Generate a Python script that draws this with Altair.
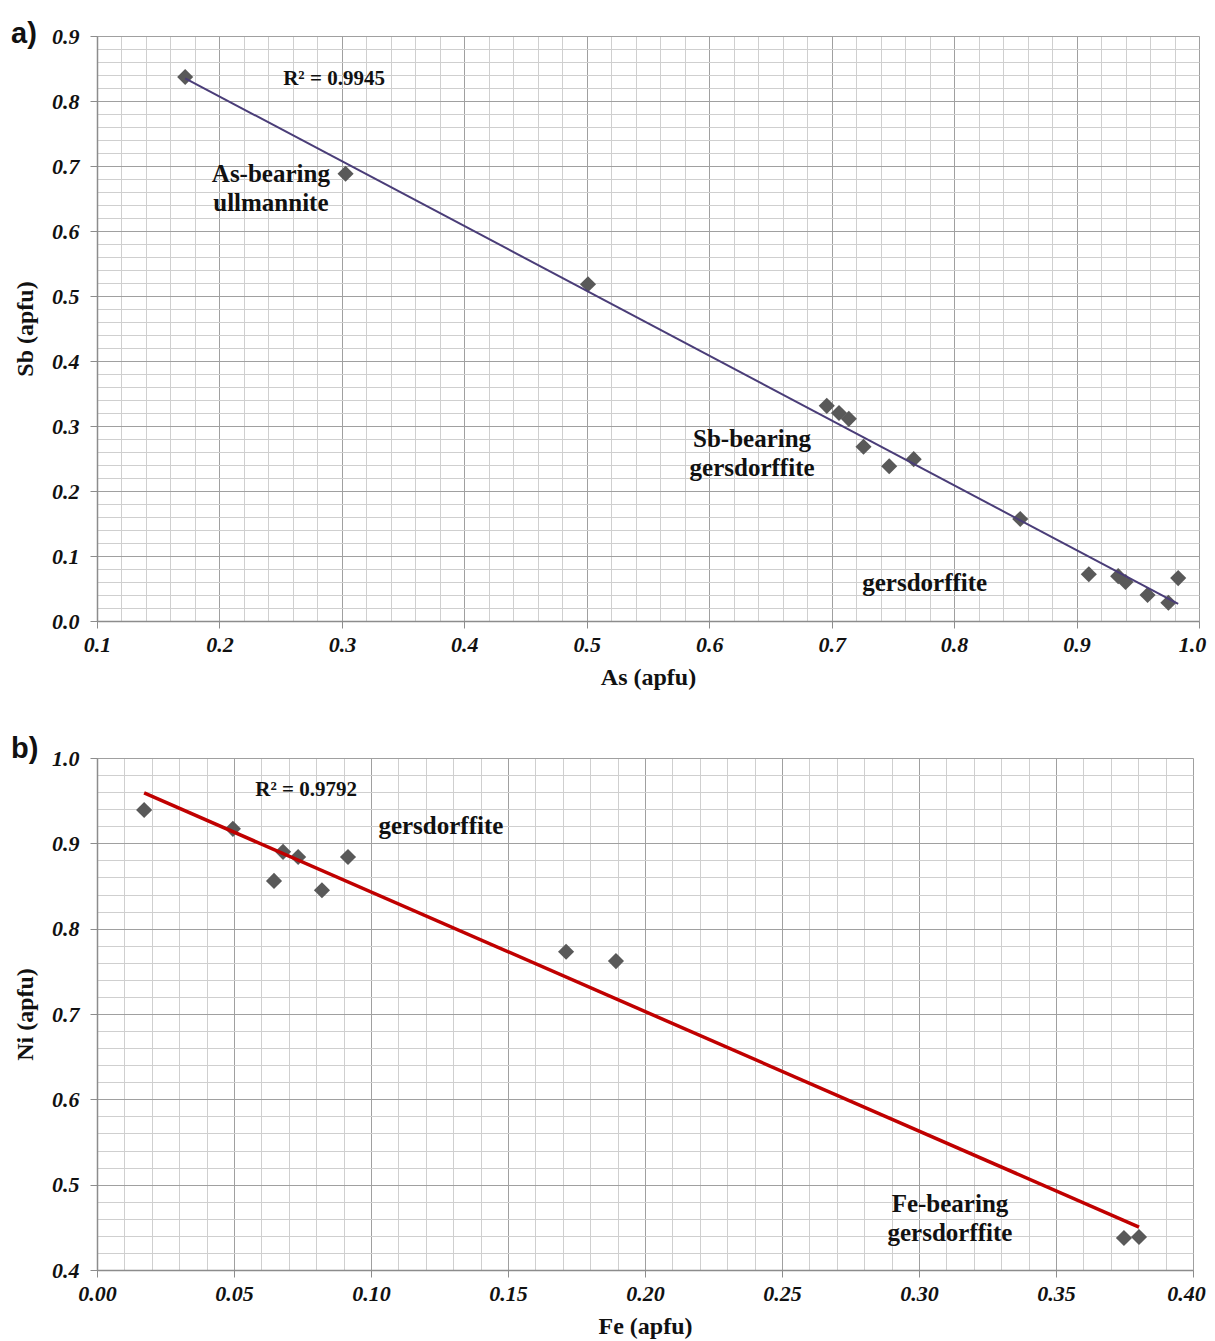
import altair as alt
import pandas as pd

# ---- Panel a data: As vs Sb (apfu)
as_vals = [0.172, 0.303, 0.501, 0.696, 0.706, 0.714, 0.726, 0.747, 0.767, 0.854,
           0.910, 0.934, 0.940, 0.958, 0.975, 0.983]
sb_vals = [0.837, 0.688, 0.518, 0.331, 0.320, 0.311, 0.268, 0.238, 0.249, 0.157,
           0.072, 0.069, 0.060, 0.040, 0.028, 0.066]

# ---- Panel b data: Fe vs Ni (apfu)
fe_vals = [0.0172, 0.0496, 0.0679, 0.0646, 0.0734, 0.0821, 0.0916, 0.1712, 0.1894, 0.3748, 0.3803]
ni_vals = [0.939, 0.917, 0.890, 0.856, 0.884, 0.845, 0.884, 0.773, 0.762, 0.4375, 0.4387]

# ---- annotations (data coordinates)
ann_a_text = ["R² = 0.9945", ["As-bearing", "ullmannite"], ["Sb-bearing", "gersdorffite"], "gersdorffite"]
ann_a_x = [0.2936, 0.242, 0.635, 0.776]
ann_a_y = [0.834, 0.688, 0.2795, 0.0585]
ann_a_size = [21, 25, 25, 25]

ann_b_text = ["R² = 0.9792", "gersdorffite", ["Fe-bearing", "gersdorffite"]]
ann_b_x = [0.0763, 0.1255, 0.3113]
ann_b_y = [0.9625, 0.920, 0.4774]
ann_b_size = [21, 25, 25]

# ---- tick values
a_x_ticks = [round(0.1 + 0.02 * i, 2) for i in range(46)]
a_y_ticks = [round(0.02 * i, 2) for i in range(46)]
b_x_ticks = [round(0.01 * i, 2) for i in range(41)]
b_y_ticks = [round(0.4 + 0.02 * i, 2) for i in range(31)]

MAJOR_GRID = "#a0a0a0"
MINOR_GRID = "#cfcfcf"
SERIF = "Liberation Serif"


def major_test(k):
    return f"abs(datum.value*{k} - round(datum.value*{k})) < 0.001"


def make_axis(values, k, fmt, title, orient):
    t = major_test(k)
    is_y = orient == "left"
    extra = {}
    if not is_y:
        last = values[-1]
        extra["labelOffset"] = {"condition": {"test": f"abs(datum.value - {last}) < 0.001", "value": -7},
                                "value": 0}
    return alt.Axis(
        values=values,
        tickCount=len(values) + 10,
        title=title,
        orient=orient,
        labelExpr=f"{t} ? format(datum.value, '{fmt}') : ''",
        labelOverlap=False,
        labelFlush=False,
        labelFont=SERIF,
        labelFontWeight="bold",
        labelFontStyle="italic",
        labelFontSize=22,
        labelColor="#111111",
        labelPadding=11 if is_y else 6,
        titleFont=SERIF,
        titleFontWeight="bold",
        titleFontSize=24,
        titleColor="#111111",
        titlePadding=14 if is_y else 10,
        grid=True,
        gridColor={"condition": {"test": t, "value": MAJOR_GRID}, "value": MINOR_GRID},
        gridWidth=1,
        tickColor={"condition": {"test": t, "value": "#8c8c8c"}, "value": "transparent"},
        tickSize=7,
        domainColor="#8c8c8c",
        domainWidth=1.5,
        **extra,
    )


def panel(xs, ys, xname, yname, xdom, ydom, xticks, yticks, xk, xfmt, line_color,
          line_width, ann_text, ann_x, ann_y, ann_size, tag, tag_y):
    df = pd.DataFrame({xname: xs, yname: ys})
    xenc = alt.X(f"{xname}:Q", scale=alt.Scale(domain=xdom, nice=False, zero=False),
                 axis=make_axis(xticks, xk, xfmt, f"{xname} (apfu)", "bottom"))
    yenc = alt.Y(f"{yname}:Q", scale=alt.Scale(domain=ydom, nice=False, zero=False),
                 axis=make_axis(yticks, 10, ".1f", f"{yname} (apfu)", "left"))
    pts = alt.Chart(df).mark_point(shape="diamond", filled=True, size=260,
                                   color="#595959", opacity=1).encode(x=xenc, y=yenc)
    fit = alt.Chart(df).transform_regression(xname, yname).mark_line(
        color=line_color, strokeWidth=line_width).encode(
        x=alt.X(f"{xname}:Q"), y=alt.Y(f"{yname}:Q"))
    layers = [pts, fit]
    for t, x, y, s in zip(ann_text, ann_x, ann_y, ann_size):
        adf = pd.DataFrame({"x": [x], "y": [y], "t": [t]})
        layers.append(alt.Chart(adf).mark_text(
            font=SERIF, fontWeight="bold", fontSize=s, color="#111111",
            align="center", baseline="middle", lineHeight=29).encode(
            x=alt.X("x:Q"), y=alt.Y("y:Q"), text="t"))
    tdf = pd.DataFrame({"t": [tag]})
    layers.append(alt.Chart(tdf).mark_text(
        font="Liberation Sans", fontWeight="bold", fontSize=29, color="#111111",
        align="left", baseline="alphabetic").encode(
        x=alt.value(-86), y=alt.value(tag_y), text="t"))
    return alt.layer(*layers)


a = panel(as_vals, sb_vals, "As", "Sb", [0.1, 1.0], [0.0, 0.9], a_x_ticks, a_y_ticks,
          10, ".1f", "#4a3d78", 2, ann_a_text, ann_a_x, ann_a_y, ann_a_size, "a)", 7
          ).properties(width=1102, height=585)
b = panel(fe_vals, ni_vals, "Fe", "Ni", [0.0, 0.4], [0.4, 1.0], b_x_ticks, b_y_ticks,
          20, ".2f", "#c00000", 3.5, ann_b_text, ann_b_x, ann_b_y, ann_b_size, "b)", 0
          ).properties(width=1096, height=512)

chart = alt.vconcat(a, b, spacing=44).properties(
    padding={"left": 2, "top": 11, "right": 0, "bottom": 5}
).configure_view(stroke=None).configure(background="white")

chart.save("out.html", embed_options={"renderer": "svg", "actions": False})
